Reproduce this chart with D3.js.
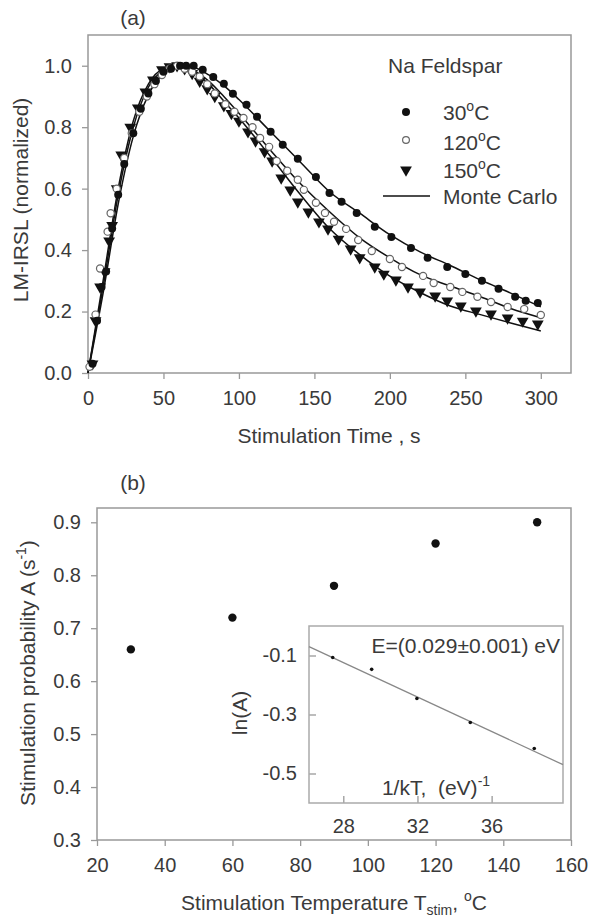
<!DOCTYPE html>
<html>
<head>
<meta charset="utf-8">
<script src="https://cdn.jsdelivr.net/npm/d3@7"></script>
<style>
  body { margin: 0; background: #fff; }
  svg text { font-family: "Liberation Sans", Arial, sans-serif; fill: #3a3a3a; }
</style>
</head>
<body>
<div id="chart"></div>
<script>
// LM-IRSL curves (a) and stimulation probability vs temperature (b)

// ---- data ----
var series30 = [[3,0.03],[6,0.17],[9,0.28],[12,0.33],[16,0.47],[20,0.58],[24,0.68],[30,0.78],[35,0.86],[40,0.91],[45,0.95],[50,0.98],[55,0.99],[61,1.0],[65,1.0],[70,1.0],[76,0.987],[83,0.963],[90,0.941],[96,0.909],[105,0.873],[112,0.834],[121,0.785],[129,0.743],[139,0.697],[151,0.638],[160,0.586],[168,0.557],[178,0.521],[190,0.476],[201,0.443],[214,0.407],[225,0.375],[238,0.345],[250,0.322],[261,0.300],[272,0.274],[283,0.248],[290,0.235],[298,0.228]];
var series120 = [[1,0.02],[5,0.19],[8,0.34],[13,0.46],[15,0.52],[19,0.60],[24,0.70],[29,0.78],[34,0.85],[39,0.90],[44,0.94],[49,0.97],[54,0.99],[59,1.0],[64,0.99],[69,0.98],[74,0.965],[79,0.94],[84,0.91],[91,0.875],[97,0.85],[103,0.83],[109,0.80],[114,0.765],[120,0.736],[125,0.69],[132,0.658],[139,0.629],[143,0.596],[151,0.554],[157,0.521],[163,0.492],[171,0.469],[179,0.433],[188,0.397],[200,0.371],[208,0.345],[222,0.316],[229,0.293],[240,0.280],[248,0.264],[258,0.248],[267,0.231],[278,0.215],[289,0.208],[300,0.189]];
var series150 = [[3,0.03],[5,0.17],[8,0.28],[11,0.33],[14,0.43],[16,0.48],[19,0.60],[22,0.71],[28,0.80],[33,0.863],[38,0.915],[43,0.954],[49,0.987],[54,0.997],[59,1.0],[64,0.99],[69,0.975],[74,0.95],[79,0.925],[84,0.90],[90,0.87],[95,0.845],[100,0.82],[106,0.785],[111,0.755],[117,0.72],[122,0.69],[128,0.635],[134,0.596],[139,0.557],[146,0.524],[153,0.492],[159,0.469],[166,0.436],[174,0.404],[180,0.375],[190,0.345],[196,0.322],[204,0.303],[212,0.280],[220,0.264],[230,0.251],[238,0.235],[247,0.218],[257,0.202],[267,0.192],[278,0.179],[288,0.169],[298,0.160]];

var mcTimes = [0,10,20,30,40,50,60,70,80,90,100,120,140,160,180,200,220,240,260,280,300];
var mc30  = [0,0.26,0.55,0.77,0.905,0.975,1.0,0.995,0.97,0.935,0.89,0.79,0.69,0.59,0.52,0.45,0.394,0.35,0.303,0.26,0.215];
var mc120 = [0,0.28,0.58,0.80,0.93,0.985,1.0,0.985,0.95,0.90,0.845,0.73,0.62,0.525,0.44,0.375,0.32,0.283,0.248,0.21,0.18];
var mc150 = [0,0.30,0.60,0.82,0.94,0.99,1.0,0.98,0.94,0.885,0.83,0.71,0.585,0.47,0.385,0.315,0.262,0.218,0.19,0.163,0.137];

var timeTicks = [0,50,100,150,200,250,300];
var lmTicks = [0,0.2,0.4,0.6,0.8,1.0];

var stimTemp = [30,60,90,120,150];
var stimProb = [0.66,0.72,0.78,0.86,0.90];
var tempTicks = [20,40,60,80,100,120,140,160];
var probTicks = [0.3,0.4,0.5,0.6,0.7,0.8,0.9];

// inset: ln(A) vs 1/kT
var invKT = [27.43,29.53,31.97,34.85,38.30];
var lnA = [-0.107,-0.147,-0.246,-0.327,-0.415];
var fitLine = [[26.15,-0.07],[39.85,-0.47]];
var invKTTicks = [28,32,36];
var lnATicks = [-0.1,-0.3,-0.5];

// ---- layout ----
var width = 591, height = 920;
var axisColor = "#999", ink = "#3a3a3a";

var svg = d3.select("#chart").append("svg")
    .attr("width", width)
    .attr("height", height);

function frame(g, x0, y0, x1, y1, color) {
    g.append("rect")
        .attr("x", x0).attr("y", y0)
        .attr("width", x1 - x0).attr("height", y1 - y0)
        .attr("fill", "none")
        .attr("stroke", color)
        .attr("stroke-width", 1.5);
}

function styleAxis(sel, size) {
    sel.select(".domain").remove();
    sel.selectAll(".tick line").attr("stroke", axisColor).attr("stroke-width", 1.3);
    sel.selectAll(".tick text").attr("fill", ink).style("font-size", size + "px");
}

// plain hyphen minus like the original, not the unicode minus d3 uses
var fmt1 = function(d){ return d.toFixed(1); };

// ---- panel (a) ----
var xA = d3.scaleLinear().domain([0, 320]).range([88, 571]);
var yA = d3.scaleLinear().domain([0, 1.1]).range([373, 35]);

svg.append("text").attr("x", 133).attr("y", 25).attr("text-anchor", "middle")
    .style("font-size", "21px").text("(a)");

svg.append("g").attr("transform", "translate(0,373)")
    .call(d3.axisBottom(xA).tickValues(timeTicks).tickSize(6).tickPadding(12).tickFormat(d3.format("d")))
    .call(styleAxis, 20);
svg.append("g").attr("transform", "translate(88,0)")
    .call(d3.axisLeft(yA).tickValues(lmTicks).tickSize(6).tickPadding(10).tickFormat(fmt1))
    .call(styleAxis, 20);
frame(svg, 88, 35, 571, 373, axisColor);

svg.append("text").attr("x", 329).attr("y", 443).attr("text-anchor", "middle")
    .style("font-size", "21px").text("Stimulation Time , s");
svg.append("text").attr("transform", "translate(28,200) rotate(-90)").attr("text-anchor", "middle")
    .style("font-size", "21px").text("LM-IRSL (normalized)");

var lineA = d3.line().x(function(d){ return xA(d[0]); }).y(function(d){ return yA(d[1]); })
    .curve(d3.curveMonotoneX);

[mc30, mc120, mc150].forEach(function(mc) {
    svg.append("path")
        .datum(mcTimes.map(function(t, i){ return [t, mc[i]]; }))
        .attr("d", lineA)
        .attr("fill", "none")
        .attr("stroke", "#111")
        .attr("stroke-width", 1.5);
});

var tri = d3.symbol().type(d3.symbolTriangle).size(60);

svg.append("g").selectAll("path").data(series150).enter().append("path")
    .attr("d", tri)
    .attr("transform", function(d){ return "translate(" + xA(d[0]) + "," + yA(d[1]) + ") rotate(180)"; })
    .attr("fill", "#111");
svg.append("g").selectAll("circle").data(series120).enter().append("circle")
    .attr("cx", function(d){ return xA(d[0]); })
    .attr("cy", function(d){ return yA(d[1]); })
    .attr("r", 3.6)
    .attr("fill", "white")
    .attr("stroke", "#666")
    .attr("stroke-width", 1.2);
svg.append("g").selectAll("circle").data(series30).enter().append("circle")
    .attr("cx", function(d){ return xA(d[0]); })
    .attr("cy", function(d){ return yA(d[1]); })
    .attr("r", 4)
    .attr("fill", "#111");

// legend
var leg = svg.append("g");
leg.append("text").attr("x", 388).attr("y", 73).style("font-size", "21px").text("Na Feldspar");
var legRows = [
    {y: 112, base: 120, label: "30"},
    {y: 140, base: 150, label: "120"},
    {y: 170, base: 178, label: "150"}
];
legRows.forEach(function(r, i) {
    if (i === 0) {
        leg.append("circle").attr("cx", 406).attr("cy", r.y).attr("r", 4).attr("fill", "#111");
    } else if (i === 1) {
        leg.append("circle").attr("cx", 406).attr("cy", r.y).attr("r", 3.4)
            .attr("fill", "white").attr("stroke", "#666").attr("stroke-width", 1.2);
    } else {
        leg.append("path").attr("d", tri)
            .attr("transform", "translate(406," + r.y + ") rotate(180)").attr("fill", "#111");
    }
    var t = leg.append("text").attr("x", 443).attr("y", r.base).style("font-size", "21px");
    t.append("tspan").text(r.label);
    t.append("tspan").attr("dy", -9).style("font-size", "14px").text("o");
    t.append("tspan").attr("dy", 9).text("C");
});
leg.append("line").attr("x1", 383).attr("x2", 430).attr("y1", 196).attr("y2", 196)
    .attr("stroke", "#111").attr("stroke-width", 1.5);
leg.append("text").attr("x", 443).attr("y", 204).style("font-size", "21px").text("Monte Carlo");

// ---- panel (b) ----
var xB = d3.scaleLinear().domain([20, 160]).range([97, 571]);
var yB = d3.scaleLinear().domain([0.3, 0.927]).range([840, 508]);

svg.append("text").attr("x", 133).attr("y", 490).attr("text-anchor", "middle")
    .style("font-size", "21px").text("(b)");

svg.append("g").attr("transform", "translate(0,840)")
    .call(d3.axisBottom(xB).tickValues(tempTicks).tickSize(6).tickPadding(12).tickFormat(d3.format("d")))
    .call(styleAxis, 20);
svg.append("g").attr("transform", "translate(97,0)")
    .call(d3.axisLeft(yB).tickValues(probTicks).tickSize(6).tickPadding(10).tickFormat(fmt1))
    .call(styleAxis, 20);
frame(svg, 97, 508, 571, 840, axisColor);

var tB = svg.append("text").attr("x", 334).attr("y", 910).attr("text-anchor", "middle").style("font-size", "21px");
tB.append("tspan").text("Stimulation Temperature T");
tB.append("tspan").attr("dy", 5).style("font-size", "14px").text("stim");
tB.append("tspan").attr("dy", -5).text(",\u00A0");
tB.append("tspan").attr("dy", -9).style("font-size", "14px").text("o");
tB.append("tspan").attr("dy", 9).text("C");

var yTitle = svg.append("text").attr("transform", "translate(35,673) rotate(-90)")
    .attr("text-anchor", "middle").style("font-size", "21px");
yTitle.append("tspan").text("Stimulation probability A (s");
yTitle.append("tspan").attr("dy", -9).style("font-size", "14px").text("-1");
yTitle.append("tspan").attr("dy", 9).text(")");

svg.append("g").selectAll("circle").data(stimTemp).enter().append("circle")
    .attr("cx", function(d){ return xB(d); })
    .attr("cy", function(d, i){ return yB(stimProb[i]); })
    .attr("r", 4.2)
    .attr("fill", "#111");

// ---- inset ----
var xI = d3.scaleLinear().domain([26.15, 39.85]).range([309, 563]);
var yI = d3.scaleLinear().domain([-0.6, 0.0]).range([803, 626]);

svg.append("rect").attr("x", 309).attr("y", 626).attr("width", 254).attr("height", 177).attr("fill", "white");

svg.append("g").attr("transform", "translate(0,803)")
    .call(d3.axisBottom(xI).tickValues(invKTTicks).tickSize(-7).tickPadding(16).tickFormat(d3.format("d")))
    .call(styleAxis, 20);
svg.append("g").attr("transform", "translate(309,0)")
    .call(d3.axisLeft(yI).tickValues(lnATicks).tickSize(-7).tickPadding(12).tickFormat(fmt1))
    .call(styleAxis, 20);
frame(svg, 309, 626, 563, 803, "#aaa");

svg.append("path")
    .datum(fitLine)
    .attr("d", d3.line().x(function(d){ return xI(d[0]); }).y(function(d){ return yI(d[1]); }))
    .attr("stroke", "#888")
    .attr("stroke-width", 1.3)
    .attr("fill", "none");

svg.append("g").selectAll("circle").data(invKT).enter().append("circle")
    .attr("cx", function(d){ return xI(d); })
    .attr("cy", function(d, i){ return yI(lnA[i]); })
    .attr("r", 1.8)
    .attr("fill", "#111");

svg.append("text").attr("x", 560).attr("y", 653).attr("text-anchor", "end")
    .style("font-size", "21px").text("E=(0.029\u00B10.001) eV");

svg.append("text").attr("transform", "translate(247,713) rotate(-90)").attr("text-anchor", "middle")
    .style("font-size", "21px").text("ln(A)");

var tI = svg.append("text").attr("x", 436).attr("y", 795).attr("text-anchor", "middle").style("font-size", "21px");
tI.append("tspan").text("1/kT,\u00A0\u00A0(eV)");
tI.append("tspan").attr("dy", -9).style("font-size", "14px").text("-1");
</script>
</body>
</html>
